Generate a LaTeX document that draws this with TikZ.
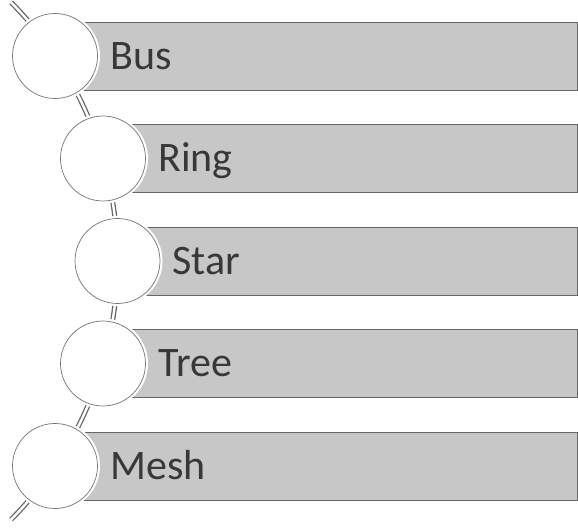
\documentclass[tikz,border=0pt]{standalone}
\usepackage{fontspec}
\setmainfont{Carlito}

\begin{document}
\begin{tikzpicture}[x=1pt,y=1pt,
    strip/.style={fill=black!22,draw=black!60,line width=0.6pt},
    wire/.style={draw=black!60,line width=1.3pt,double=white,double distance=2.4pt},
    ball/.style={circle,minimum size=85pt,inner sep=0pt,fill=white,
      draw=black!55,line width=0.7pt,preaction={draw=white,line width=5pt}},
    itemtext/.style={anchor=base west,inner sep=0pt,text=black!78,
      font=\fontsize{42}{42}\selectfont}]
  \useasboundingbox (0,0) rectangle (578,529);

  % Grey strips behind the circles
  \draw[strip] (55,439) rectangle (577.5,507);
  \draw[strip] (103,336.5) rectangle (577.5,404.5);
  \draw[strip] (117.5,234) rectangle (577.5,302);
  \draw[strip] (103,131.5) rectangle (577.5,199.5);
  \draw[strip] (55,29) rectangle (577.5,97);

  % Curved double line through the circles
  \coordinate (hub) at (-250,268);
  \path (hub) ++(44.7:367.5) coordinate (top);
  \draw[wire] (top) arc[start angle=44.7,end angle=-44.7,radius=367.5];

  % Circles
  \node[ball] (bus) at (55,473) {};
  \node[ball] (ring) at (103,370.5) {};
  \node[ball] (star) at (117.5,268) {};
  \node[ball] (tree) at (103,165.5) {};
  \node[ball] (mesh) at (55,63) {};

  % Labels
  \node[itemtext] (bustext) at (110,459.7) {Bus};
  \node[itemtext] (ringtext) at (158,357.2) {Ring};
  \node[itemtext] (startext) at (172.5,254.7) {Star};
  \node[itemtext] (treetext) at (158,152.2) {Tree};
  \node[itemtext] (meshtext) at (110,49.7) {Mesh};
\end{tikzpicture}
\end{document}
